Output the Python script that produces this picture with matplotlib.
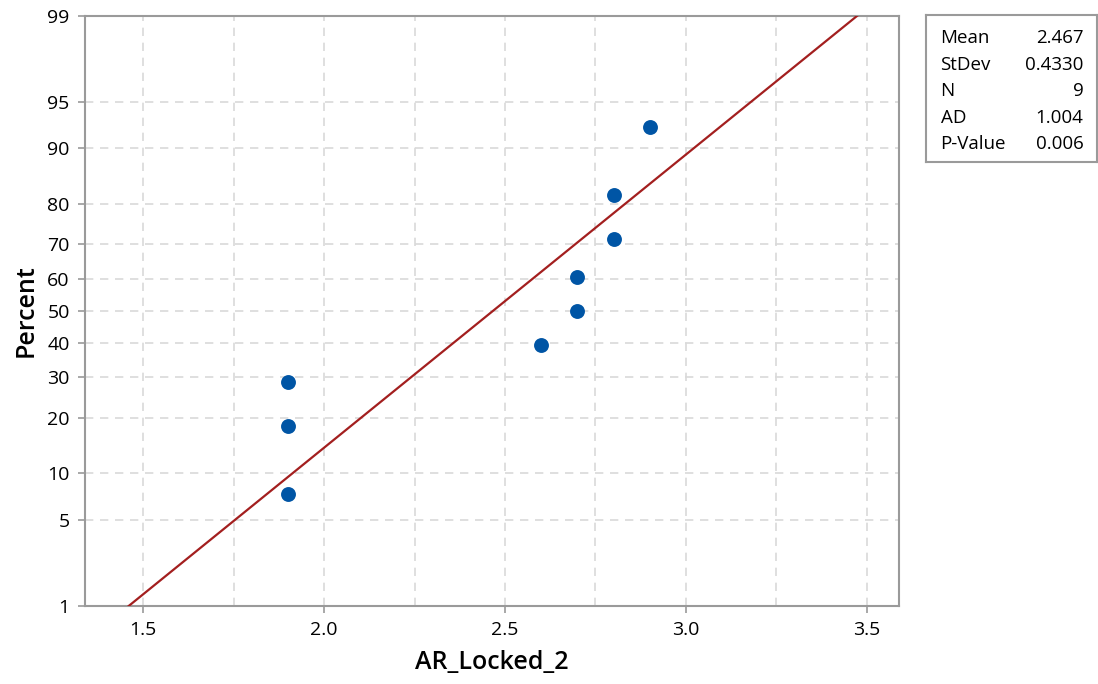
from statistics import NormalDist

import matplotlib.pyplot as plt
import numpy as np
from matplotlib.ticker import FixedLocator

# data
x_values = [1.9, 1.9, 1.9, 2.6, 2.7, 2.7, 2.8, 2.8, 2.9]
percents = [7.4, 18.1, 28.7, 39.4, 50.0, 60.6, 71.3, 81.9, 92.6]
y_ticks = [1, 5, 10, 20, 30, 40, 50, 60, 70, 80, 90, 95, 99]
x_ticks = [1.5, 2.0, 2.5, 3.0, 3.5]
x_minor = [1.75, 2.25, 2.75, 3.25]
fit_mean = 2.467
fit_sd = 0.4330
stat_names = ["Mean", "StDev", "N", "AD", "P-Value"]
stat_values = ["2.467", "0.4330", "9", "1.004", "0.006"]

plt.rcParams["font.family"] = ["Open Sans", "DejaVu Sans"]

nd = NormalDist()


def probit(p):
    return np.array([nd.inv_cdf(v / 100.0) for v in np.atleast_1d(p)])


fig = plt.figure(figsize=(10.98, 6.84), dpi=100)
ax = fig.add_axes([0.0774, 0.114, 0.7414, 0.8633])

grid_col = "#d9d9d9"
spine_col = "#9a9a9a"

# fitted line
fit = NormalDist(fit_mean, fit_sd)
ylo, yhi = probit([1, 99])
xs = np.linspace(fit.inv_cdf(0.01), fit.inv_cdf(0.99), 200)
zs = (xs - fit_mean) / fit_sd
ax.plot(xs, zs, color="#a31f1f", lw=1.6, zorder=3)

ax.scatter(x_values, probit(percents), s=115, color="#0055a5", zorder=4, linewidths=0)

ax.set_xlim(1.339, 3.589)
ax.set_ylim(ylo, yhi)

ax.set_xticks(x_ticks)
ax.set_xticklabels([f"{v:.1f}" for v in x_ticks])
ax.xaxis.set_minor_locator(FixedLocator(x_minor))
ax.set_yticks(probit(y_ticks))
ax.set_yticklabels([str(v) for v in y_ticks])

ax.grid(True, which="both", axis="x", color=grid_col, ls=(0, (5, 4)), lw=1.2)
ax.grid(True, which="major", axis="y", color=grid_col, ls=(0, (5, 4)), lw=1.2)
ax.set_axisbelow(True)

ax.tick_params(which="major", length=5, width=1.2, color=spine_col, labelsize=14, pad=6)
ax.tick_params(which="minor", length=0)
for s in ax.spines.values():
    s.set_color(spine_col)
    s.set_linewidth(1.5)

ax.set_xlabel("AR_Locked_2", fontsize=18, fontweight="semibold", labelpad=8)
ax.set_ylabel("Percent", fontsize=18, fontweight="semibold", labelpad=6)

# stats box
box = fig.add_axes([926 / 1098, 1 - 162 / 684, (1097 - 926) / 1098, (162 - 15) / 684])
box.set_xticks([])
box.set_yticks([])
box.set_xlim(0, 1)
box.set_ylim(0, 1)
for s in box.spines.values():
    s.set_color(spine_col)
    s.set_linewidth(1.5)
for i, (name, val) in enumerate(zip(stat_names, stat_values)):
    yy = 1 - (23 + i * 26.6) / 147
    box.text(0.085, yy, name, ha="left", va="center", fontsize=13.5)
    box.text(0.92, yy, val, ha="right", va="center", fontsize=13.5)

fig.savefig("out.png", dpi=100)
